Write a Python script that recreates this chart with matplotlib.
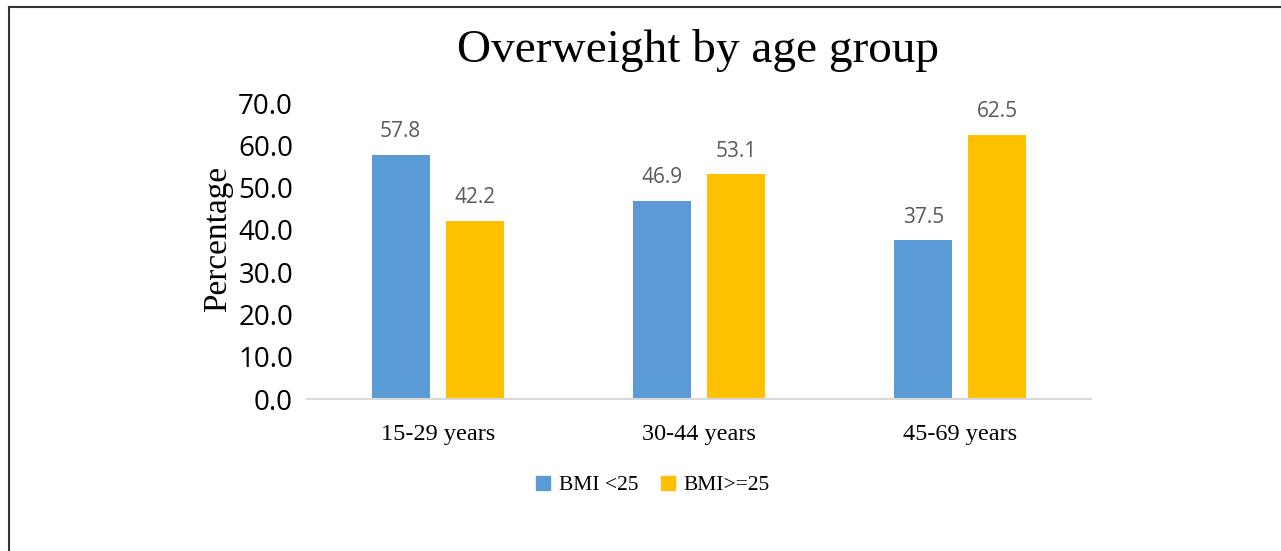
import matplotlib
matplotlib.use("Agg")
import matplotlib.pyplot as plt
from matplotlib.lines import Line2D
import numpy as np

# Share of respondents in each BMI band, per age group
age_groups = ["15-29 years", "30-44 years", "45-69 years"]
bmi_under_25 = [57.8, 46.9, 37.5]
bmi_25_plus = [42.2, 53.1, 62.5]
series_names = ["BMI <25", "BMI>=25"]
y_ticks = [0, 10, 20, 30, 40, 50, 60, 70]

BLUE = "#5B9BD5"
GOLD = "#FFC000"
SERIF = "Liberation Serif"
SANS = "Open Sans"

fig = plt.figure(figsize=(12.81, 5.51), dpi=100)
ax = fig.add_axes([307 / 1281, 1 - 399 / 551, 784 / 1281, 296 / 551])

x = np.arange(len(age_groups))
width = 0.222
offset = 0.142
bars1 = ax.bar(x - offset, bmi_under_25, width, color=BLUE, label=series_names[0])
bars2 = ax.bar(x + offset, bmi_25_plus, width, color=GOLD, label=series_names[1])

for bars, vals in ((bars1, bmi_under_25), (bars2, bmi_25_plus)):
    for b, v in zip(bars, vals):
        ax.annotate(f"{v:.1f}", (b.get_x() + b.get_width() / 2, v),
                    xytext=(0, 9), textcoords="offset points",
                    ha="center", va="bottom", fontsize=15, color="#595959",
                    family=SANS)

ax.set_xlim(-0.5, 2.5)
ax.set_ylim(0, 70)
ax.set_yticks(y_ticks)
ax.set_yticklabels([f"{t:.1f}" for t in y_ticks], family=SANS, fontsize=20)
ax.set_xticks(x)
ax.set_xticklabels(age_groups, family=SERIF, fontsize=17.5)
ax.tick_params(length=0)
ax.tick_params(axis="y", pad=10)
ax.tick_params(axis="x", pad=18)
for side in ("top", "right", "left"):
    ax.spines[side].set_visible(False)
ax.spines["bottom"].set_color("#D9D9D9")
ax.spines["bottom"].set_linewidth(1.5)

ax.set_ylabel("Percentage", family=SERIF, fontsize=24)
ax.yaxis.set_label_coords(-0.094, 0.54)
fig.text(698 / 1281, 1 - 51 / 551, "Overweight by age group", family=SERIF,
         fontsize=34, ha="center", va="center")

handles = [Line2D([], [], marker="s", linestyle="none", markersize=10,
                  color=c) for c in (BLUE, GOLD)]
fig.legend(handles, series_names, loc="center", bbox_to_anchor=(650 / 1281, 1 - 485 / 551),
           ncol=2, frameon=False, prop={"family": SERIF, "size": 15.5},
           handletextpad=0.1, columnspacing=0.8, handlelength=1.2)

# frame lines along the top and left edge
fig.add_artist(Line2D([9 / 1281, 9 / 1281], [0, 1 - 7 / 551], transform=fig.transFigure,
                      color="#333333", linewidth=1.5))
fig.add_artist(Line2D([9 / 1281, 1], [1 - 7 / 551, 1 - 7 / 551], transform=fig.transFigure,
                      color="#333333", linewidth=1.5))

fig.savefig("out.png", dpi=100)
